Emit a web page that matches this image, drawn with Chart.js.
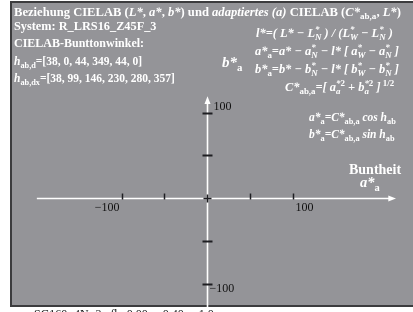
<!DOCTYPE html>
<html><head><meta charset="utf-8">
<script src="https://cdn.jsdelivr.net/npm/chart.js@4/dist/chart.umd.min.js"></script>
<style>html,body{margin:0;padding:0;background:#fff;}#wrap{width:413px;height:312px;}</style>
</head><body><div id="wrap"><canvas id="c" width="413" height="312"></canvas></div>
<script>
// ---- data ----
const hueD = [38, 0, 44, 349, 44, 0];
const hueDX = [38, 99, 146, 230, 280, 357];
const xTicks = [-100, -50, 0, 50, 100];
const yTicks = [-100, -50, 0, 50, 100];
const xTickLabels = [-100, 100];
const yTickLabels = [100, -100];

const SERIF = '"Liberation Serif","DejaVu Serif",serif';
function font(size, bold, italic){return (italic?'italic ':'')+(bold?'bold ':'')+size+'px '+SERIF;}
function rich(ctx, x, y, segs, size, boldDef){
  let cx = x;
  for(const s of segs){
    const b = s.b!==undefined? s.b : boldDef;
    if(s.st){
      const fs = size*0.72;
      ctx.font = font(fs, b, s.i);
      const w1 = ctx.measureText(s.st.sup).width, w2 = ctx.measureText(s.st.sub).width;
      ctx.fillText(s.st.sup, cx, y - size*0.38);
      ctx.fillText(s.st.sub, cx, y + size*0.22);
      cx += Math.max(w1,w2);
      continue;
    }
    let fs = size, dy = 0;
    if(s.p==='sub'){fs = size*0.72; dy = size*0.25;}
    if(s.p==='sup'){fs = size*0.72; dy = -size*0.4;}
    ctx.font = font(fs, b, s.i);
    ctx.fillText(s.t, cx, y+dy);
    cx += ctx.measureText(s.t).width;
  }
  return cx;
}
const T = (t,o)=>Object.assign({t},o||{});

const bgPlugin = {
  id:'bg',
  beforeDraw(chart){
    const ctx = chart.ctx;
    ctx.save();
    ctx.fillStyle = '#ffffff'; ctx.fillRect(0,0,413,312);
    ctx.fillStyle = '#3c3c3e'; ctx.fillRect(10,1,410,306);
    ctx.fillStyle = '#949498'; ctx.fillRect(12,3,410,302);
    ctx.restore();
  },
  afterDraw(chart){
    const ctx = chart.ctx, xs = chart.scales.x, ys = chart.scales.y;
    const X = v=>xs.getPixelForValue(v), Y = v=>ys.getPixelForValue(v);
    ctx.save();
    ctx.strokeStyle = '#ffffff'; ctx.fillStyle = '#ffffff'; ctx.lineWidth = 1.6;
    const y0 = Math.round(Y(0))+0.5, x0 = Math.round(X(0))+0.5;
    ctx.beginPath(); ctx.moveTo(X(-199), y0); ctx.lineTo(X(214), y0); ctx.stroke();
    ctx.beginPath(); ctx.moveTo(X(221), y0); ctx.lineTo(X(212), y0-3); ctx.lineTo(X(212), y0+3); ctx.closePath(); ctx.fill();
    ctx.beginPath(); ctx.moveTo(x0, Y(-140)); ctx.lineTo(x0, Y(112)); ctx.stroke();
    ctx.beginPath(); ctx.moveTo(x0, Y(119)); ctx.lineTo(x0-3, Y(110)); ctx.lineTo(x0+3, Y(110)); ctx.closePath(); ctx.fill();
    ctx.strokeStyle = '#1e1e22';
    ctx.lineWidth = 1.5;
    for(const v of xTicks){
      if(v===0) continue;
      const px = Math.round(X(v))+0.5;
      ctx.beginPath(); ctx.moveTo(px, y0-5); ctx.lineTo(px, y0+1); ctx.stroke();
    }
    ctx.lineWidth = 2;
    for(const v of yTicks){
      if(v===0) continue;
      const py = Math.round(Y(v))+0.5;
      ctx.beginPath(); ctx.moveTo(x0-5, py); ctx.lineTo(x0+5, py); ctx.stroke();
    }
    ctx.lineWidth = 1.5;
    ctx.beginPath(); ctx.moveTo(x0-4, y0); ctx.lineTo(x0+4, y0); ctx.moveTo(x0, y0-4); ctx.lineTo(x0, y0+4); ctx.stroke();
    ctx.fillStyle = '#111'; ctx.font = font(12,false,false); ctx.textBaseline='alphabetic';
    ctx.textAlign='right'; ctx.fillText('\u2212'+Math.abs(xTickLabels[0]), X(xTickLabels[0])-2, y0+12);
    ctx.textAlign='left'; ctx.fillText(String(xTickLabels[1]), X(xTickLabels[1])+3, y0+12);
    ctx.fillText(String(yTickLabels[0]), x0+6, Y(yTickLabels[0])-3);
    ctx.fillText('\u2212'+Math.abs(yTickLabels[1]), x0+2, Y(yTickLabels[1])+8);
    ctx.fillStyle = '#ffffff'; ctx.textAlign='left';
    const s1 = 12.6;
    rich(ctx, 14, 16, [T('Beziehung CIELAB ('),T('L*',{i:1}),T(', '),T('a*',{i:1}),T(', '),T('b*',{i:1}),T(') und '),
      T('adaptiertes (a)',{i:1}),T(' CIELAB ('),T('C*',{i:1}),T('ab,a',{p:'sub'}),T(', '),T('L*',{i:1}),T(')')], s1, true);
    rich(ctx, 14, 30, [T('System: R_LRS16_Z45F_3')], 12.3, true);
    rich(ctx, 14, 47, [T('CIELAB-Bunttonwinkel:')], 12, true);
    rich(ctx, 14, 65, [T('h',{i:1}),T('ab,d',{p:'sub'}),T('=['+hueD.join(', ')+']')], 11.5, true);
    rich(ctx, 14, 82, [T('h',{i:1}),T('ab,dx',{p:'sub'}),T('=['+hueDX.join(', ')+']')], 11.5, true);
    rich(ctx, 222, 67, [T('b*',{i:1}),T('a',{p:'sub',i:0})], 15, true);
    const fs = 12.4;
    rich(ctx, 256, 37, [T('l*=( L* \u2212 L',{i:1}),{st:{sup:'*',sub:'N'},i:1},T(' ) / (L',{i:1}),{st:{sup:'*',sub:'W'},i:1},T(' \u2212 L',{i:1}),{st:{sup:'*',sub:'N'},i:1},T(' )',{i:1})], fs, true);
    rich(ctx, 255, 55, [T('a*',{i:1}),T('a',{p:'sub'}),T('=a* \u2212 a',{i:1}),{st:{sup:'*',sub:'N'},i:1},T(' \u2212 l* [ a',{i:1}),{st:{sup:'*',sub:'W'},i:1},T(' \u2212 a',{i:1}),{st:{sup:'*',sub:'N'},i:1},T(' ]',{i:1})], fs, true);
    rich(ctx, 255, 73, [T('b*',{i:1}),T('a',{p:'sub'}),T('=b* \u2212 b',{i:1}),{st:{sup:'*',sub:'N'},i:1},T(' \u2212 l* [ b',{i:1}),{st:{sup:'*',sub:'W'},i:1},T(' \u2212 b',{i:1}),{st:{sup:'*',sub:'N'},i:1},T(' ]',{i:1})], fs, true);
    rich(ctx, 285, 91, [T('C*',{i:1}),T('ab,a',{p:'sub'}),T('=[ a',{i:1}),{st:{sup:'*',sub:'a'},i:1},T('2',{p:'sup'}),T(' + b',{i:1}),{st:{sup:'*',sub:'a'},i:1},T('2',{p:'sup'}),T(' ]',{i:1}),T(' 1/2',{p:'sup'})], fs, true);
    rich(ctx, 309, 121, [T('a*',{i:1}),T('a',{p:'sub'}),T('=C*',{i:1}),T('ab,a',{p:'sub'}),T(' cos h',{i:1}),T('ab',{p:'sub'})], 11.5, true);
    rich(ctx, 309, 138, [T('b*',{i:1}),T('a',{p:'sub'}),T('=C*',{i:1}),T('ab,a',{p:'sub'}),T(' sin h',{i:1}),T('ab',{p:'sub'})], 11.5, true);
    rich(ctx, 349, 174, [T('Buntheit')], 14, true);
    rich(ctx, 360, 187, [T('a*',{i:1}),T('a',{p:'sub'})], 14.5, true);
    ctx.fillStyle = '#111';
    rich(ctx, 34, 318, [T('SG160\u22124N\u22123,  fb: 0.00 ... 0.40 ... 1.0')], 12, false);
    ctx.restore();
  }
};

new Chart(document.getElementById('c'), {
  type:'scatter',
  data:{datasets:[{data:[], showLine:false}]},
  options:{
    responsive:false, animation:false, devicePixelRatio:1,
    layout:{padding:0},
    plugins:{legend:{display:false}, tooltip:{enabled:false}},
    scales:{
      x:{type:'linear', min:-242.1, max:240.9, display:false},
      y:{type:'linear', min:-133.3, max:231.6, display:false}
    }
  },
  plugins:[bgPlugin]
});
</script></body></html>
